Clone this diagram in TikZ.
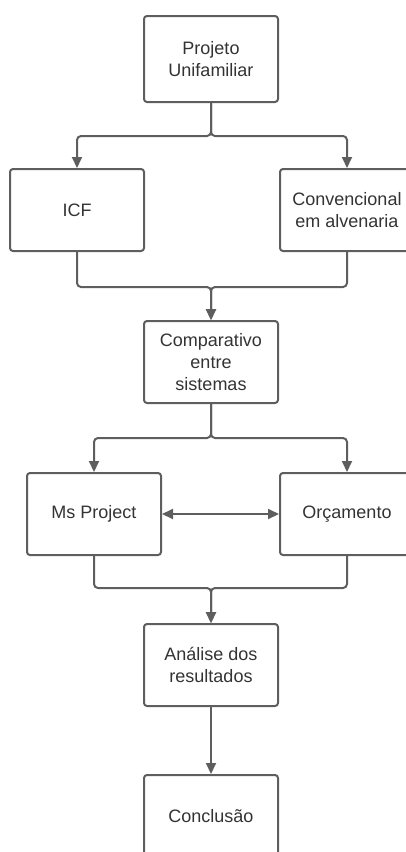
\documentclass[tikz,border=0pt]{standalone}
\usepackage{fontspec}
\setmainfont{Liberation Sans}
\usetikzlibrary{arrows.meta}
\definecolor{linegray}{RGB}{94,94,94}
\definecolor{textgray}{RGB}{51,51,51}
\tikzset{
  box/.style={draw=linegray, line width=2pt, rounded corners=3pt, minimum width=134pt,
    minimum height=82pt, align=center, text=textgray, font=\fontsize{18}{22}\selectfont},
  link/.style={draw=linegray, line width=2pt, rounded corners=4pt},
  tip/.style={-{Triangle[length=11pt,width=10pt]}},
  tips/.style={{Triangle[length=11pt,width=10pt]}-{Triangle[length=11pt,width=10pt]}}
}

\begin{document}
\begin{tikzpicture}[x=1pt,y=-1pt]
	\useasboundingbox (0,0) rectangle (406,852);
	\node[box, minimum height=86pt] (proj) at (211,59) {Projeto\\Unifamiliar};
	\node[box] (icf) at (77,210) {ICF};
	\node[box] (conv) at (347,210) {Convencional\\em alvenaria};
	\node[box] (comp) at (211,362) {Comparativo\\entre\\sistemas};
	\node[box] (msp) at (94,514) {Ms Project};
	\node[box] (orc) at (347,514) {Orçamento};
	\node[box] (anal) at (211,665) {Análise dos\\resultados};
	\node[box] (concl) at (211,816) {Conclusão};
	\draw[link,tip] (proj.south) -- ++(0,33) -| (icf.north);
	\draw[link,tip] (proj.south) -- ++(0,33) -| (conv.north);
	\draw[link,tip] (icf.south) -- ++(0,35) -| (comp.north);
	\draw[link,tip] (conv.south) -- ++(0,35) -| (comp.north);
	\draw[link,tip] (comp.south) -- ++(0,34) -| (msp.north);
	\draw[link,tip] (comp.south) -- ++(0,34) -| (orc.north);
	\draw[link,tips] (msp.east) -- (orc.west);
	\draw[link,tip] (msp.south) -- ++(0,32) -| (anal.north);
	\draw[link,tip] (orc.south) -- ++(0,32) -| (anal.north);
	\draw[link,tip] (anal.south) -- (concl.north);
\end{tikzpicture}
\end{document}
